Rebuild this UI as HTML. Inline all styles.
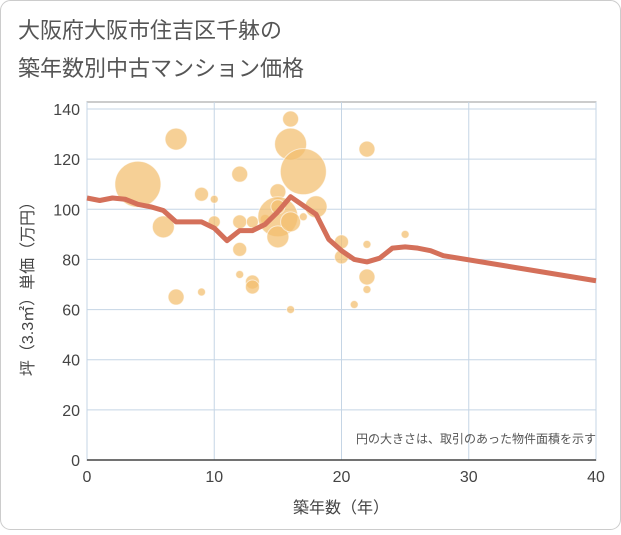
<!DOCTYPE html>
<html><head><meta charset="utf-8"><style>
body{margin:0;background:#fff;}
#wrap{position:relative;width:621px;height:530px;font-family:"Liberation Sans","Noto Sans CJK JP",sans-serif;}
</style></head><body>
<div id="wrap">
<svg id="svg" width="621" height="530" xmlns="http://www.w3.org/2000/svg">
<rect x="0.5" y="0.5" width="620" height="529" rx="10" fill="#fff" stroke="#ccc"/>
<text x="18" y="38" font-size="22" fill="#555">大阪府大阪市住吉区千躰の</text>
<text x="18" y="76" font-size="22" fill="#555">築年数別中古マンション価格</text>
<g id="grid"></g><g id="bub"></g><g id="ln"></g><g id="ax"></g>
<text x="596" y="443" font-size="12" fill="#555" text-anchor="end">円の大きさは、取引のあった物件面積を示す</text>
<text x="341" y="513" font-size="16" fill="#444" text-anchor="middle">築年数（年）</text>
<text transform="translate(33,285) rotate(-90)" font-size="16" fill="#444" text-anchor="middle">坪（3.3㎡）単価（万円）</text>
</svg></div>
<script>
const xTicks=[0,10,20,30,40];
const yTicks=[0,20,40,60,80,100,120,140];
const bubX=[4,7,6,7,9,9,10,10,12,12,12,12,13,13,13,14,15,15,15,15,16,16,17,16,17,18,20,20,21,22,22,22,22,25,16];
const bubY=[110,128,93,65,106,67,104,95,114,95,84,74,71,69,95,96,107,97,89,101,136,126,115,95,97,101,87,81,62,124,86,73,68,90,60];
const bubR=[23,11,11,8,7,4,4,6,8,7,7,4,7,7,6,5,8,20,11,7,8,16,23,10,4,11,7,7,4,8,4,8,4,4,4];
const lineX=[0,1,2,3,4,5,6,7,8,9,10,11,12,13,14,15,16,17,18,19,20,21,22,23,24,25,26,27,28,40];
const lineY=[104.5,103.5,104.5,104,102,101,99.5,95,95,95,92.5,87.5,91.5,91.5,94,99,105,101.5,98,88,83.5,80,79,80.5,84.5,85,84.5,83.5,81.5,71.5];
const NS="http://www.w3.org/2000/svg";
const X=v=>87+v*(596-87)/40, Y=v=>460-v*(460-109)/140;
function mk(t,a,p){const e=document.createElementNS(NS,t);for(const k in a)e.setAttribute(k,a[k]);document.getElementById(p).appendChild(e);return e;}
let e=mk('rect',{x:87,y:102,width:509,height:358,fill:'none',stroke:'#999'},'grid');


yTicks.forEach(v=>{let l=mk('line',{x1:87,x2:596,y1:Y(v),y2:Y(v),stroke:'#c5d5e5'},'grid');


let t=mk('text',{x:80,y:Y(v)+6,'font-size':16,fill:'#444','text-anchor':'end'},'ax');t.textContent=v;

});
xTicks.forEach(v=>{let l=mk('line',{x1:X(v),x2:X(v),y1:102,y2:460,stroke:'#c5d5e5'},'grid');


let t=mk('text',{x:X(v),y:482,'font-size':16,fill:'#444','text-anchor':'middle'},'ax');t.textContent=v;

});
let ax=mk('line',{x1:87,x2:596,y1:460,y2:460,stroke:'#444','stroke-width':1.5},'ax');


bubX.forEach((x,i)=>{let c=mk('circle',{cx:X(x),cy:Y(bubY[i]),r:bubR[i],fill:'rgba(242,190,110,0.72)',stroke:'rgba(255,255,255,0.6)'},'bub');

});
let p=mk('polyline',{points:lineX.map((x,i)=>X(x)+','+Y(lineY[i])).join(' '),fill:'none',stroke:'#d4705a','stroke-width':5,'stroke-linejoin':'round'},'ln');


</script>
</body></html>
